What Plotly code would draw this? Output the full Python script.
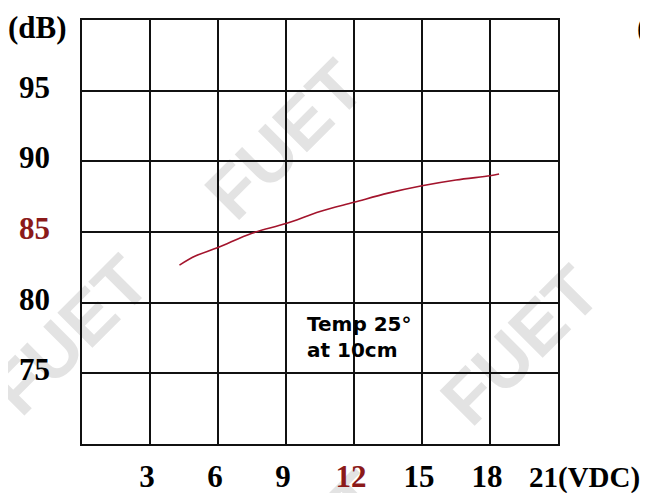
import plotly.graph_objects as go

# Data
voltage = [4.3, 5, 6, 7.5, 9, 10.5, 12, 13.5, 15, 16.5, 18, 18.4]
spl_db = [82.66, 83.3, 83.9, 84.92, 85.6, 86.45, 87.1, 87.75, 88.27, 88.68, 88.98, 89.1]

x_tickvals = [3, 6, 9, 12, 15, 18]
x_ticktext = ["3", "6", "9", "<span style='color:#8b1a1a'>12</span>", "15", "18"]
y_tickvals = [75, 80, 85, 90, 95]
y_ticktext = ["75", "80", "<span style='color:#8b1a1a'>85</span>", "90", "95"]

serif = dict(family="Liberation Serif", size=31, color="black", weight="bold")

fig = go.Figure()
fig.add_trace(go.Scatter(
    x=voltage, y=spl_db, mode="lines",
    line=dict(color="#a3142c", width=1.6, shape="spline"),
    hoverinfo="skip", showlegend=False,
))

# watermarks (below grid)
wm = [(-0.036, 0.269), (0.415, 0.73), (0.91, 0.245), (0.46, -0.24)]
for (cx, cy) in wm:
    fig.add_shape(
        type="rect", xref="paper", yref="paper",
        x0=cx - 0.05, x1=cx + 0.05, y0=cy - 0.05, y1=cy + 0.05,
        line=dict(width=0), fillcolor="rgba(0,0,0,0)", layer="below",
        label=dict(text="FUET", textangle=-45, textposition="middle center",
                   font=dict(family="Liberation Sans", size=72, color="#e3e3e3", weight="bold")),
    )

fig.add_annotation(text="(dB)", xref="paper", yref="paper", x=-0.0945, y=0.983,
                   xanchor="center", yanchor="middle", showarrow=False, font=serif)
fig.add_annotation(text="(", xref="paper", yref="paper", x=1.162, y=0.983,
                   xanchor="left", yanchor="middle", showarrow=False, font=serif)
fig.add_annotation(text="21(VDC)", xref="x", yref="paper", x=21, y=0, yshift=-33,
                   xshift=-31, xanchor="left", yanchor="middle", showarrow=False,
                   font=dict(family="Liberation Serif", size=29, color="black", weight="bold"))
fig.add_annotation(text="Temp 25°<br>at 10cm", xref="x", yref="y", x=9.85, y=77.6,
                   xanchor="left", yanchor="middle", align="left", showarrow=False,
                   font=dict(family="DejaVu Sans", size=20, color="black", weight="bold"))

axis_common = dict(showgrid=True, gridcolor="#111111", gridwidth=1.6,
                   showline=True, mirror=True, linecolor="#111111", linewidth=1.8,
                   zeroline=False, ticks="", tickfont=serif, fixedrange=True,
                   automargin=False)

fig.update_xaxes(range=[0, 21], tickvals=x_tickvals, ticktext=x_ticktext,
                 ticklabelstandoff=4, ticklabelshift=-3, **axis_common)
fig.update_yaxes(range=[70, 100], tickvals=y_tickvals, ticktext=y_ticktext,
                 ticklabelstandoff=24, ticklabelshift=-4, **axis_common)

# page body adds an 8px offset, so the figure is sized to fit the 648x493 window
fig.update_layout(
    width=640, height=485,
    margin=dict(l=74, r=90, t=12, b=49, autoexpand=False),
    paper_bgcolor="white", plot_bgcolor="rgba(0,0,0,0)",
    showlegend=False,
)

fig.write_html("out.html")
